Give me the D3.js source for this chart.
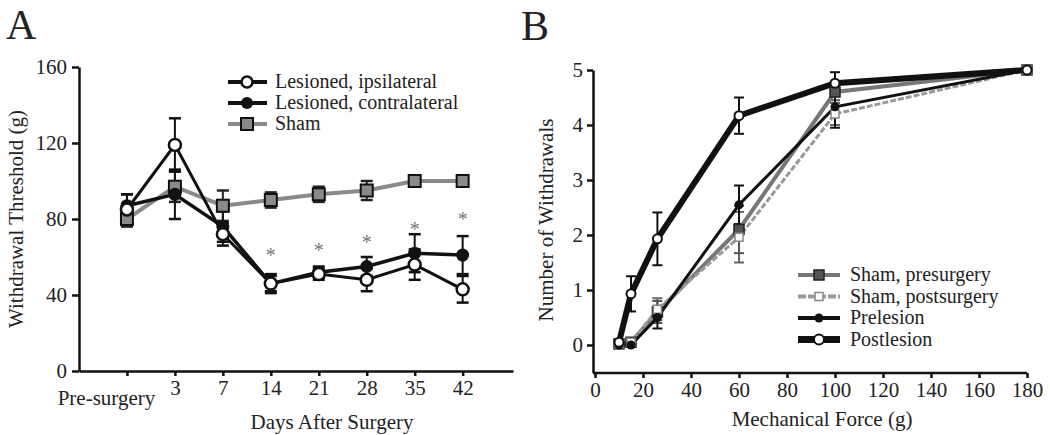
<!DOCTYPE html>
<meta charset="utf-8">
<style>
body { margin: 0; background: #fff; }
text { font-family: "Liberation Serif", "Times New Roman", serif; fill: #222; }
.axis path, .axis line { stroke: #111; stroke-width: 2.5; }
.axis text { font-size: 21px; font-family: "Liberation Serif", serif; fill: #222; }
</style>
<body>
<div id="fig"></div>
<script src="https://cdn.jsdelivr.net/npm/d3@7"></script>
<script>
// ---------------- panel A data ----------------
const daysLabels = ["Pre-surgery", "3", "7", "14", "21", "28", "35", "42"];
const ipsiMean   = [85, 119, 72, 46, 51, 48, 56, 43];
const ipsiErr    = [8, 14, 6, 4, 3, 6, 8, 7];
const contraMean = [87, 93, 76, 46, 52, 55, 62, 61];
const contraErr  = [6, 13, 8, 5, 3, 5, 10, 10];
const shamMean   = [80, 97, 87, 90, 93, 95, 100, 100];
const shamErr    = [4, 8, 8, 4, 4, 5, 1, 1];
const starIndex  = [3, 4, 5, 6, 7];
const starLevel  = [62, 65, 69, 76, 81];

// ---------------- panel B data ----------------
const forces        = [10, 15, 26, 60, 100, 180];
const shamPreMean   = [0.02, 0.05, 0.6, 2.1, 4.6, 5];
const shamPreErr    = [0, 0, 0.2, 0.43, 0.15, 0];
const shamPostMean  = [0.02, 0.05, 0.65, 1.96, 4.2, 5];
const shamPostErr   = [0, 0, 0.2, 0.46, 0.2, 0];
const preLesMean    = [0.0, 0.0, 0.5, 2.55, 4.33, 5];
const preLesErr     = [0, 0, 0.2, 0.35, 0.38, 0];
const postLesMean   = [0.05, 0.93, 1.93, 4.17, 4.76, 5];
const postLesErr    = [0, 0.32, 0.48, 0.33, 0.2, 0];

const svg = d3.select("#fig").append("svg")
    .attr("width", 1050).attr("height", 435);

//------------------------ PANEL A ------------------------//
const xA = d3.scaleLinear().domain([-1, 8.05]).range([79, 513]);
const yA = d3.scaleLinear().domain([0, 160]).range([371, 67]);

svg.append("text").attr("x", 6).attr("y", 39)
    .style("font-size", "42px").text("A");

svg.append("g").attr("class", "axis")
    .attr("transform", "translate(79,0)")
    .call(d3.axisLeft(yA).tickValues([0, 40, 80, 120, 160]).tickSize(7).tickPadding(5).tickSizeOuter(0));

const gxA = svg.append("g").attr("class", "axis")
    .attr("transform", "translate(0,371)")
    .call(d3.axisBottom(xA).tickValues(d3.range(0, 8)).tickSize(5).tickPadding(4).tickSizeOuter(0)
        .tickFormat(i => daysLabels[i]));
gxA.selectAll(".tick text").filter(i => i === 0)
    .attr("dx", -21).attr("dy", "1.2em");

svg.append("text").attr("x", 332).attr("y", 429)
    .attr("text-anchor", "middle").style("font-size", "21px").text("Days After Surgery");
svg.append("text").attr("transform", "translate(23,219) rotate(-90)")
    .attr("text-anchor", "middle").style("font-size", "21px").text("Withdrawal Threshold (g)");

const lineA = d3.line().x((d, i) => xA(i)).y(d => yA(d));

function errA(g, mean, err, color) {
  mean.forEach((m, i) => {
    if (err[i] <= 0) return;
    const x = xA(i), y0 = yA(m - err[i]), y1 = yA(m + err[i]);
    g.append("line").attr("x1", x).attr("x2", x).attr("y1", y0).attr("y2", y1)
      .attr("stroke", color).attr("stroke-width", 2);
    [y0, y1].forEach(y => g.append("line").attr("x1", x - 6).attr("x2", x + 6)
      .attr("y1", y).attr("y2", y).attr("stroke", color).attr("stroke-width", 2.5));
  });
}

const gA = svg.append("g");
// sham
errA(gA, shamMean, shamErr, "#222");
gA.append("path").datum(shamMean).attr("d", lineA)
  .attr("fill", "none").attr("stroke", "#8a8a8a").attr("stroke-width", 4);
// contralateral
errA(gA, contraMean, contraErr, "#111");
gA.append("path").datum(contraMean).attr("d", lineA)
  .attr("fill", "none").attr("stroke", "#111").attr("stroke-width", 3.5);
// ipsilateral
errA(gA, ipsiMean, ipsiErr, "#111");
gA.append("path").datum(ipsiMean).attr("d", lineA)
  .attr("fill", "none").attr("stroke", "#111").attr("stroke-width", 3);

gA.selectAll(".sq").data(shamMean).join("rect")
  .attr("x", (d, i) => xA(i) - 6).attr("y", d => yA(d) - 6)
  .attr("width", 12).attr("height", 12)
  .attr("fill", "#8a8a8a").attr("stroke", "#111").attr("stroke-width", 2);
gA.selectAll(".fc").data(contraMean).join("circle")
  .attr("cx", (d, i) => xA(i)).attr("cy", d => yA(d)).attr("r", 6.5)
  .attr("fill", "#111");
gA.selectAll(".oc").data(ipsiMean).join("circle")
  .attr("cx", (d, i) => xA(i)).attr("cy", d => yA(d)).attr("r", 6)
  .attr("fill", "#fff").attr("stroke", "#111").attr("stroke-width", 2.5);

gA.selectAll(".star").data(starIndex).join("text")
  .attr("x", d => xA(d)).attr("y", (d, i) => yA(starLevel[i]) + 9)
  .attr("text-anchor", "middle").style("font-size", "20px").style("fill", "#777")
  .text("*");

// legend A
const legA = [
  {label: "Lesioned, ipsilateral", kind: "open"},
  {label: "Lesioned, contralateral", kind: "filled"},
  {label: "Sham", kind: "sham"}
];
legA.forEach((d, i) => {
  const y = 82 + i * 21;
  const g = svg.append("g");
  g.append("line").attr("x1", 228).attr("x2", 267).attr("y1", y).attr("y2", y)
    .attr("stroke", d.kind === "sham" ? "#8a8a8a" : "#111").attr("stroke-width", 4);
  if (d.kind === "open") g.append("circle").attr("cx", 247).attr("cy", y).attr("r", 5.5)
    .attr("fill", "#fff").attr("stroke", "#111").attr("stroke-width", 2.5);
  if (d.kind === "filled") g.append("circle").attr("cx", 247).attr("cy", y).attr("r", 6).attr("fill", "#111");
  if (d.kind === "sham") g.append("rect").attr("x", 241).attr("y", y - 6).attr("width", 12).attr("height", 12)
    .attr("fill", "#8a8a8a").attr("stroke", "#111").attr("stroke-width", 2);
  g.append("text").attr("x", 275).attr("y", y + 6).style("font-size", "20px").text(d.label);
});

//------------------------ PANEL B ------------------------//
const xB = d3.scaleLinear().domain([0, 180]).range([595, 1027]);
const yB = d3.scaleLinear().domain([-0.5, 5]).range([372.5, 70]);

svg.append("text").attr("x", 521).attr("y", 40)
    .style("font-size", "42px").text("B");

svg.append("g").attr("class", "axis")
    .attr("transform", "translate(593,0)")
    .call(d3.axisLeft(yB).tickValues([0, 1, 2, 3, 4, 5]).tickFormat(d3.format("d"))
      .tickSize(6).tickPadding(4).tickSizeOuter(0));
const gxB = svg.append("g").attr("class", "axis")
    .attr("transform", "translate(0,373)")
    .call(d3.axisBottom(xB).tickValues(d3.range(0, 181, 20)).tickSize(5).tickPadding(4).tickSizeOuter(0));
gxB.select("path").attr("d", "M593,0H1027");

svg.append("text").attr("x", 822).attr("y", 426)
    .attr("text-anchor", "middle").style("font-size", "21px").text("Mechanical Force (g)");
svg.append("text").attr("transform", "translate(553,220) rotate(-90)")
    .attr("text-anchor", "middle").style("font-size", "21px").text("Number of Withdrawals");

const lineB = d3.line().x((d, i) => xB(forces[i])).y(d => yB(d));

function errB(g, mean, err, color) {
  mean.forEach((m, i) => {
    if (err[i] <= 0) return;
    const x = xB(forces[i]), y0 = yB(m - err[i]), y1 = yB(m + err[i]);
    g.append("line").attr("x1", x).attr("x2", x).attr("y1", y0).attr("y2", y1)
      .attr("stroke", color).attr("stroke-width", 2);
    [y0, y1].forEach(y => g.append("line").attr("x1", x - 5).attr("x2", x + 5)
      .attr("y1", y).attr("y2", y).attr("stroke", color).attr("stroke-width", 2));
  });
}

const gB = svg.append("g");
errB(gB, shamPostMean, shamPostErr, "#666");
errB(gB, shamPreMean, shamPreErr, "#555");
errB(gB, preLesMean, preLesErr, "#111");
errB(gB, postLesMean, postLesErr, "#111");

gB.append("path").datum(shamPreMean).attr("d", lineB)
  .attr("fill", "none").attr("stroke", "#777").attr("stroke-width", 4);
gB.append("path").datum(shamPostMean).attr("d", lineB)
  .attr("fill", "none").attr("stroke", "#9a9a9a").attr("stroke-width", 3)
  .attr("stroke-dasharray", "6,2");
gB.append("path").datum(preLesMean).attr("d", lineB)
  .attr("fill", "none").attr("stroke", "#111").attr("stroke-width", 3);
gB.append("path").datum(postLesMean).attr("d", lineB)
  .attr("fill", "none").attr("stroke", "#111").attr("stroke-width", 6);

gB.selectAll(".sp").data(shamPreMean).join("rect")
  .attr("x", (d, i) => xB(forces[i]) - 5).attr("y", d => yB(d) - 5)
  .attr("width", 10).attr("height", 10)
  .attr("fill", "#555").attr("stroke", "#222").attr("stroke-width", 1.5);
gB.selectAll(".spo").data(shamPostMean).join("rect")
  .attr("x", (d, i) => xB(forces[i]) - 4).attr("y", d => yB(d) - 4)
  .attr("width", 8).attr("height", 8)
  .attr("fill", "#fff").attr("stroke", "#888").attr("stroke-width", 1.5);
gB.selectAll(".pl").data(preLesMean).join("circle")
  .attr("cx", (d, i) => xB(forces[i])).attr("cy", d => yB(d)).attr("r", 4.5)
  .attr("fill", "#111");
gB.selectAll(".pol").data(postLesMean).join("circle")
  .attr("cx", (d, i) => xB(forces[i])).attr("cy", d => yB(d)).attr("r", 4.5)
  .attr("fill", "#fff").attr("stroke", "#111").attr("stroke-width", 2);

// legend B
const legB = [
  {label: "Sham, presurgery", kind: "pre"},
  {label: "Sham, postsurgery", kind: "post"},
  {label: "Prelesion", kind: "prel"},
  {label: "Postlesion", kind: "postl"}
];
legB.forEach((d, i) => {
  const y = 275 + i * 21.5;
  const g = svg.append("g");
  const col = d.kind === "pre" ? "#777" : d.kind === "post" ? "#9a9a9a" : "#111";
  const w = d.kind === "postl" ? 7 : 4;
  g.append("line").attr("x1", 798).attr("x2", 840).attr("y1", y).attr("y2", y)
    .attr("stroke", col).attr("stroke-width", w)
    .attr("stroke-dasharray", d.kind === "post" ? "8,2" : null);
  if (d.kind === "pre") g.append("rect").attr("x", 814).attr("y", y - 5).attr("width", 10).attr("height", 10)
    .attr("fill", "#555").attr("stroke", "#222").attr("stroke-width", 1.5);
  if (d.kind === "post") g.append("rect").attr("x", 815).attr("y", y - 4).attr("width", 8).attr("height", 8)
    .attr("fill", "#fff").attr("stroke", "#888").attr("stroke-width", 1.5);
  if (d.kind === "prel") g.append("circle").attr("cx", 819).attr("cy", y).attr("r", 4.5).attr("fill", "#111");
  if (d.kind === "postl") g.append("circle").attr("cx", 819).attr("cy", y).attr("r", 5)
    .attr("fill", "#fff").attr("stroke", "#111").attr("stroke-width", 2);
  g.append("text").attr("x", 850).attr("y", y + 6).style("font-size", "20px").text(d.label);
});
</script>
</body>
